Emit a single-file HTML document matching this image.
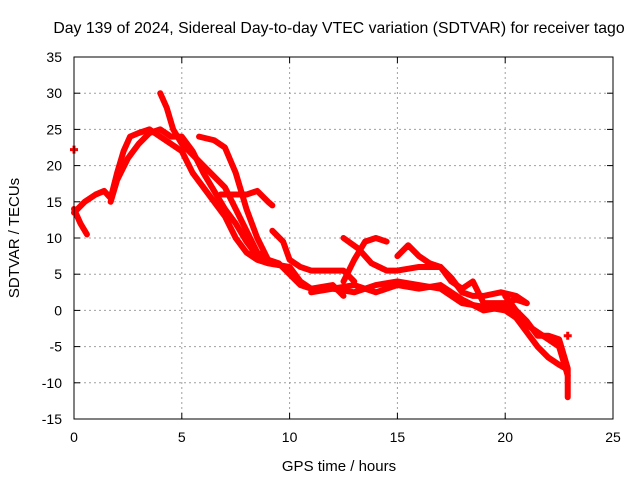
<!DOCTYPE html>
<html><head><meta charset="utf-8"><style>
body{margin:0;background:#fff}
svg{display:block;font-family:"Liberation Sans",sans-serif;font-size:14px}
</style></head><body>
<svg id="chart" width="640" height="480" viewBox="0 0 640 480">
<rect width="640" height="480" fill="#fff"/>
<text x="339" y="33" text-anchor="middle" style="font-size:15.8px">Day 139 of 2024, Sidereal Day-to-day VTEC variation (SDTVAR) for receiver tago</text>
<g id="grid"></g><g id="ticks"></g><g id="series"></g>
<rect x="74" y="57" width="539" height="362" fill="none" stroke="#000" stroke-width="1"/>
<text x="339" y="471" text-anchor="middle" style="font-size:15px">GPS time / hours</text>
<text transform="translate(19,238) rotate(-90)" text-anchor="middle" style="font-size:15px">SDTVAR / TECUs</text>
</svg>
<script>
const xTicks=[0,5,10,15,20,25];
const yTicks=[-15,-10,-5,0,5,10,15,20,25,30,35];
const sA=[[0,14],[0.3,12],[0.6,10.5]];
const sB=[[0,13.5],[0.5,15],[1,16],[1.4,16.5],[1.7,15.5],[2,19],[2.3,22],[2.6,24],[3,24.5],[3.5,25],[4,24],[4.5,23],[5,22],[5.5,19],[6,17],[7,13],[7.5,10],[8,8],[8.5,7],[9,6.5],[10,6],[10.5,4],[11,3],[12,3],[13,2.5],[14,3.5],[15,4],[16,3.5],[17,3],[18,1],[19,0.5],[20,0],[21,-2],[21.5,-3],[22,-4],[22.5,-5],[22.9,-9]];
const sC=[[1.7,15],[2,18],[2.5,21],[3,23],[3.5,24.5],[4,25],[4.5,24],[5,24],[5.5,22],[6,19],[6.5,16.5],[7,14],[7.5,12],[8,9.5],[8.5,7.5],[9,7],[9.5,6.5],[10,5],[10.5,3.5],[11,3],[12,3.5],[12.5,2]];
const sD=[[4,30],[4.3,28],[4.6,25],[5,23],[6,20],[7,17],[7.5,14],[8,11],[8.5,8],[9,7]];
const sE=[[5.8,24],[6.5,23.5],[7,22.5],[7.5,19],[8,14],[8.5,10],[9,7]];
const sF=[[6.8,16],[8,16],[8.5,16.5],[9,15],[9.2,14.5]];
const sG=[[9.2,11],[9.7,9.5],[10,7],[10.5,6],[11,5.5],[12,5.5],[12.5,5.5],[13,4]];
const sH=[[12.5,10],[13.2,8.5],[13.8,6.5],[14.5,5.5],[15,5.5],[16,6],[17,6],[17.5,4],[18,3],[18.5,4],[19,1],[20,1],[20.5,1.5],[21,1]];
const sI=[[12.5,4],[13,7],[13.5,9.5],[14,10],[14.5,9.5]];
const sJ=[[15,7.5],[15.5,9],[16,7.5],[16.5,6.5],[17,6],[17.5,4.5],[18,2.5],[18.5,2],[19,2],[19.8,2.5],[20.5,2],[21,1]];
const sK=[[20,2],[20.5,0],[21,-1.5],[21.5,-3.5],[22,-3.5],[22.5,-4],[22.7,-6],[22.9,-8],[22.9,-12]];
const sL=[[20,1],[20.5,-1],[21,-3],[21.5,-5],[22,-6.5],[22.5,-7.5],[22.8,-8]];
const sN=[[11,2.5],[12,3],[13,3.5],[14,2.5],[15,3.5],[16,3],[17,3.5],[18,1.5],[19,0],[20,0.5]];
const sM=[[0,22.2],[22.9,-3.5]];
const allSeries=[sA,sB,sC,sD,sE,sF,sG,sH,sI,sJ,sK,sL,sN];
const X=h=>74+h*(539/25), Y=v=>419-(v+15)*(362/50);
const NS="http://www.w3.org/2000/svg";
const grid=document.getElementById('grid'),ticks=document.getElementById('ticks'),ser=document.getElementById('series');
function mk(tag,attrs,parent){const e=document.createElementNS(NS,tag);for(const k in attrs)e.setAttribute(k,attrs[k]);parent.appendChild(e);return e;}
xTicks.forEach(t=>{const x=X(t);
 if(t>0&&t<25){const g=mk('line',{x1:x,x2:x,y1:57,y2:419,stroke:'#a0a0a0','stroke-dasharray':'2,3'},grid);
 
 }
 mk('line',{x1:x,x2:x,y1:419,y2:413,stroke:'#000'},ticks);mk('line',{x1:x,x2:x,y1:57,y2:63,stroke:'#000'},ticks);
 const l=mk('text',{x:x,y:442,'text-anchor':'middle'},ticks);l.textContent=t;
 
 });
yTicks.forEach(t=>{const y=Y(t);
 if(t>-15&&t<35){const g=mk('line',{x1:74,x2:613,y1:y,y2:y,stroke:'#a0a0a0','stroke-dasharray':'2,3'},grid);
 
 }
 mk('line',{x1:74,x2:80,y1:y,y2:y,stroke:'#000'},ticks);mk('line',{x1:613,x2:607,y1:y,y2:y,stroke:'#000'},ticks);
 const l=mk('text',{x:62,y:y+5,'text-anchor':'end'},ticks);l.textContent=t;
 
 });
allSeries.forEach(s=>{const p=mk('polyline',{points:s.map(d=>X(d[0])+','+Y(d[1])).join(' '),fill:'none',stroke:'#ff0000','stroke-width':6,'stroke-linejoin':'round','stroke-linecap':'round'},ser);
 
 });
sM.forEach(d=>{const m=mk('path',{d:`M${X(d[0])-4},${Y(d[1])}h8M${X(d[0])},${Y(d[1])-4}v8`,stroke:'#ff0000','stroke-width':3},ser);
 
 });
</script>
</body></html>
